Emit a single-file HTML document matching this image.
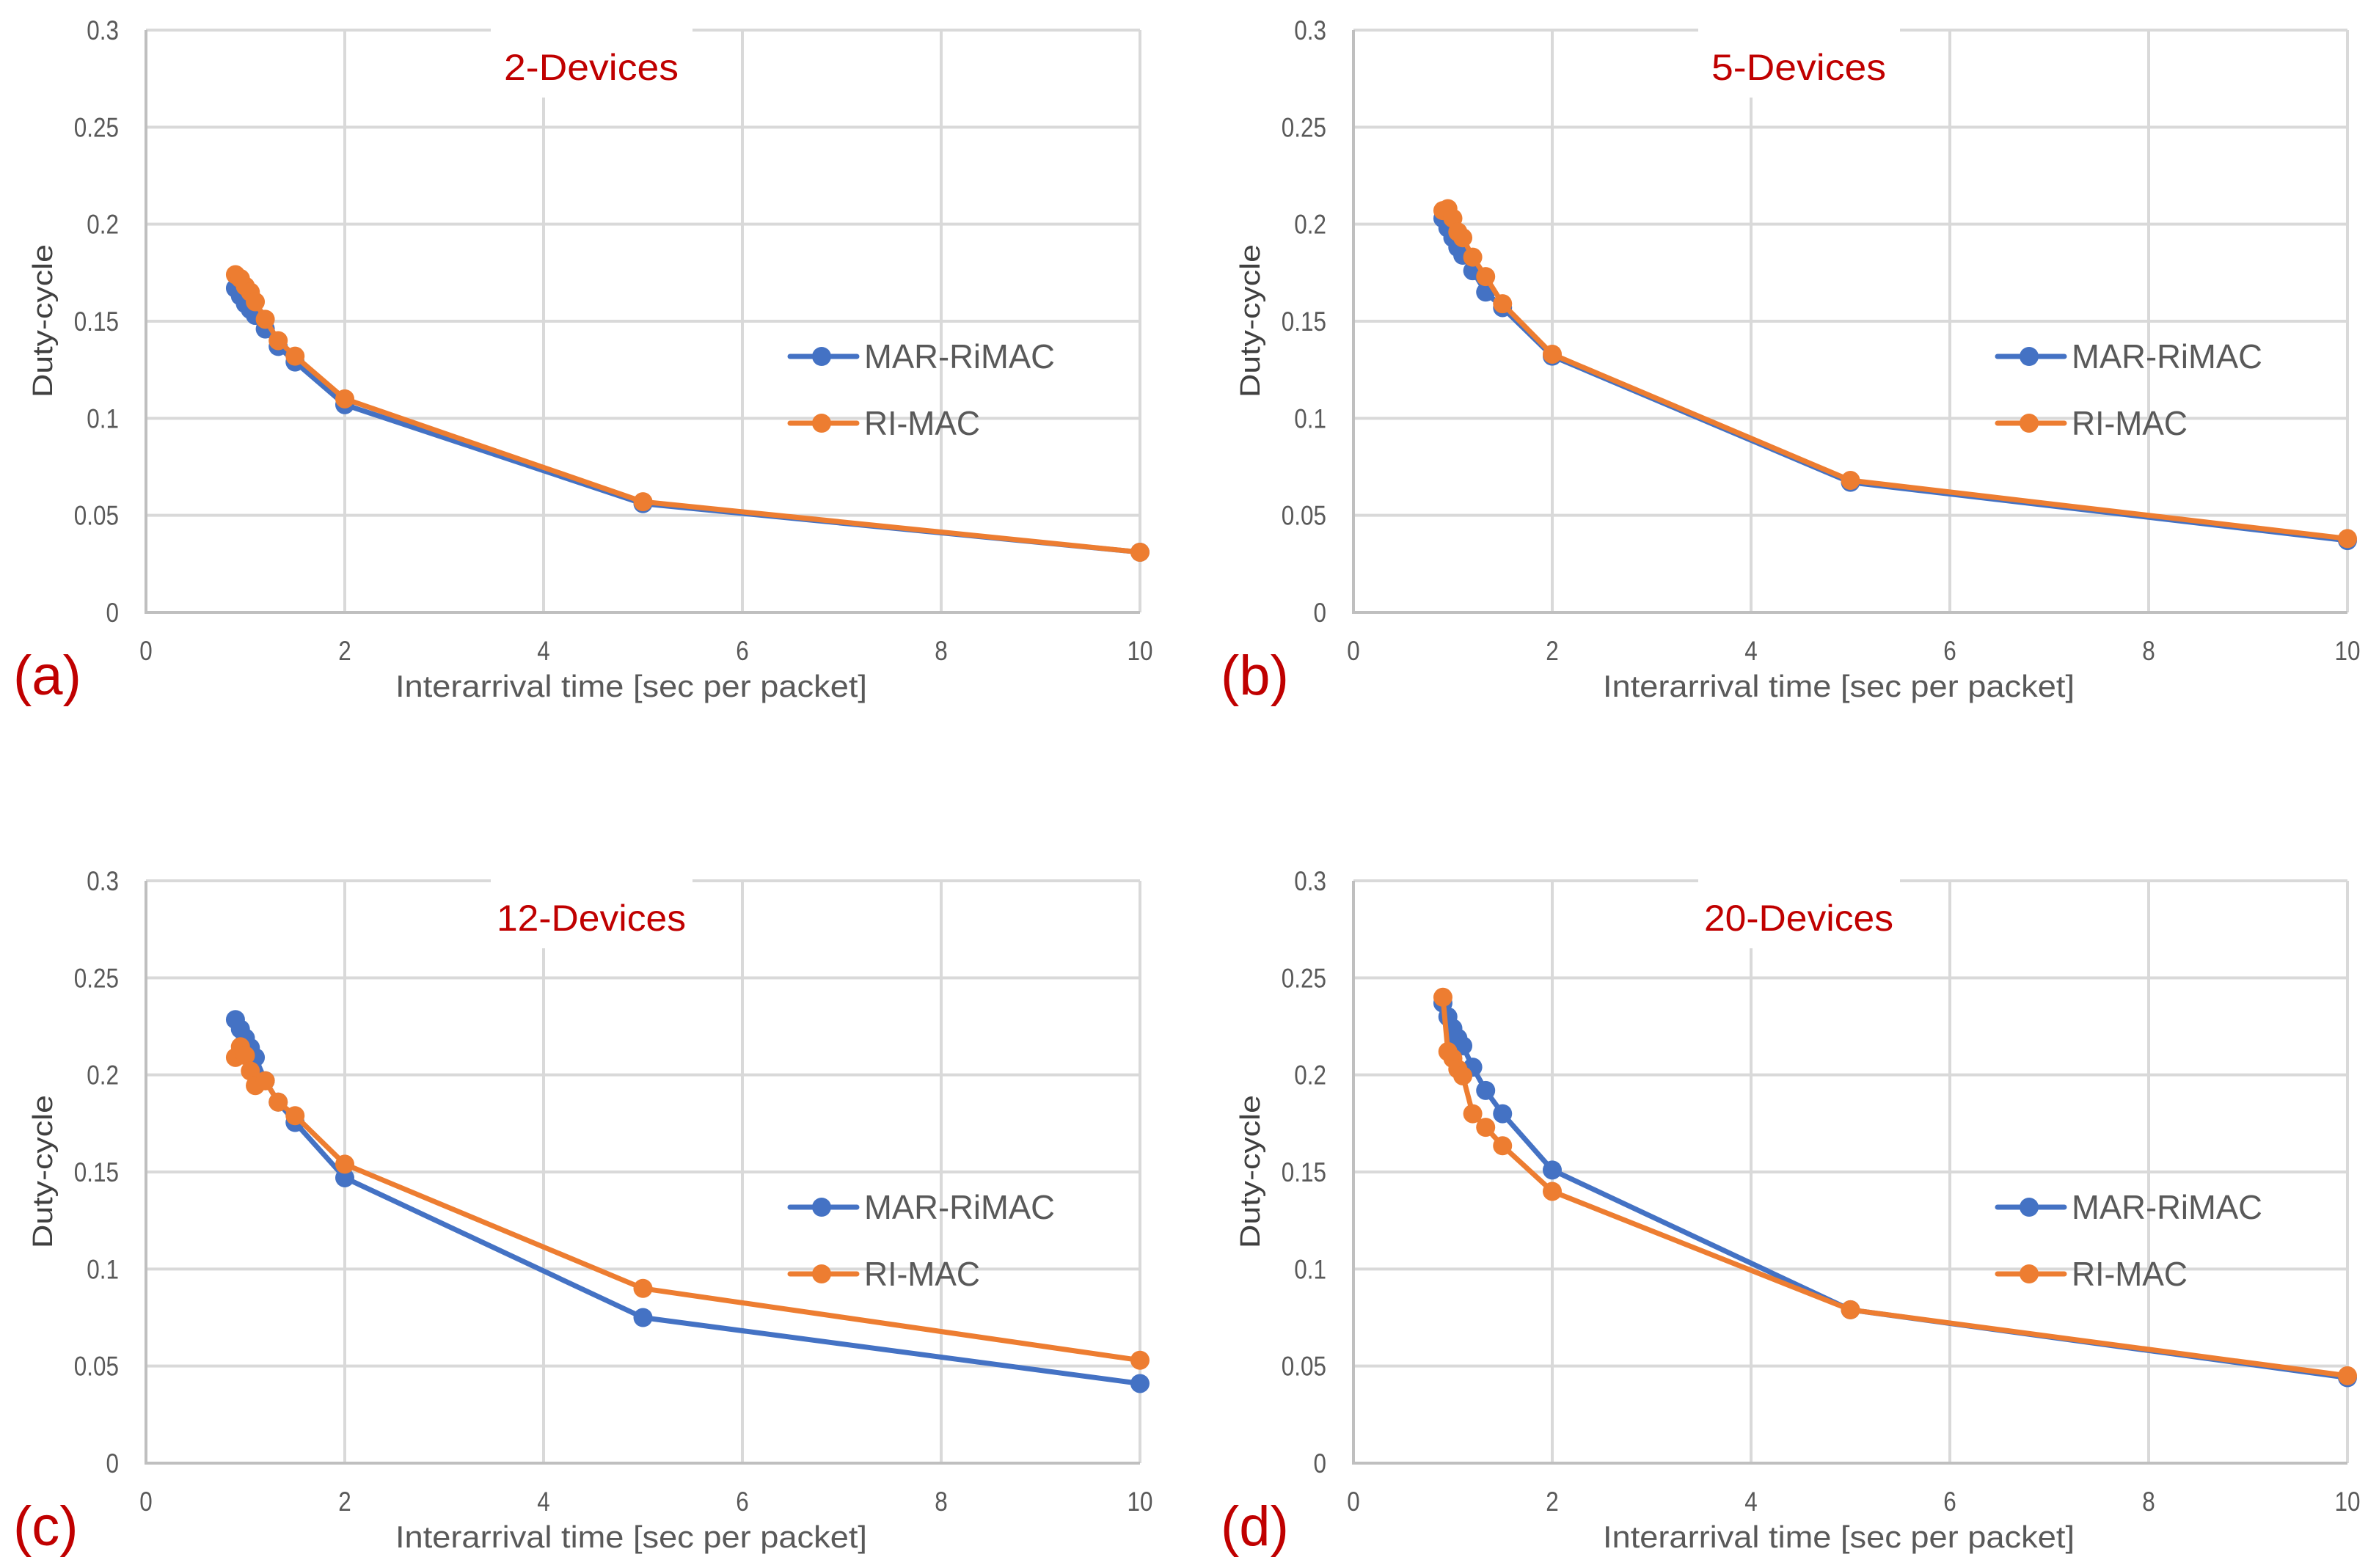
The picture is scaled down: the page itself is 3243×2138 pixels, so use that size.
<!DOCTYPE html>
<html><head><meta charset="utf-8"><style>
html,body{margin:0;padding:0;background:#fff;}
svg{display:block;}
text{font-family:"Liberation Sans",sans-serif;}
</style></head><body>
<svg id="fig" width="3243" height="2138" viewBox="0 0 3243 2138" xmlns="http://www.w3.org/2000/svg"></svg>
<script>
const xValues = [0.9, 0.95, 1.0, 1.05, 1.1, 1.2, 1.33, 1.5, 2, 5, 10];
const xTicks = [0, 2, 4, 6, 8, 10];
const yTicks = [0, 0.05, 0.1, 0.15, 0.2, 0.25, 0.3];
const yTickLabels = ["0", "0.05", "0.1", "0.15", "0.2", "0.25", "0.3"];
const seriesNames = ["MAR-RiMAC", "RI-MAC"];
const panelTitles = ["2-Devices", "5-Devices", "12-Devices", "20-Devices"];
const panelLetters = ["(a)", "(b)", "(c)", "(d)"];
const marA = [0.167, 0.163, 0.159, 0.156, 0.153, 0.146, 0.137, 0.129, 0.107, 0.056, 0.031];
const riA  = [0.174, 0.172, 0.168, 0.165, 0.160, 0.151, 0.140, 0.132, 0.110, 0.057, 0.031];
const marB = [0.203, 0.198, 0.193, 0.188, 0.184, 0.176, 0.165, 0.157, 0.132, 0.067, 0.037];
const riB  = [0.207, 0.208, 0.203, 0.196, 0.193, 0.183, 0.173, 0.159, 0.133, 0.068, 0.038];
const marC = [0.2285, 0.2236, 0.219, 0.214, 0.209, 0.197, 0.186, 0.1755, 0.147, 0.075, 0.041];
const riC  = [0.209, 0.2145, 0.210, 0.202, 0.1945, 0.197, 0.186, 0.179, 0.154, 0.090, 0.053];
const marD = [0.237, 0.230, 0.224, 0.219, 0.215, 0.204, 0.192, 0.180, 0.151, 0.079, 0.044];
const riD  = [0.240, 0.212, 0.2085, 0.203, 0.1995, 0.180, 0.173, 0.1635, 0.140, 0.079, 0.045];

const NS = "http://www.w3.org/2000/svg";
const svg = document.getElementById("fig");
const colors = ["#4472C4", "#ED7D31"];
const panels = [
  {left:199, top:41, data:[marA, riA]},
  {left:1845, top:41, data:[marB, riB]},
  {left:199, top:1201, data:[marC, riC]},
  {left:1845, top:1201, data:[marD, riD]}
];
const W = 1355, H = 794, XMAX = 10, YMAX = 0.3;

function mk(tag, attrs, parent) {
  const e = document.createElementNS(NS, tag);
  for (const k in attrs) e.setAttribute(k, attrs[k]);
  (parent || svg).appendChild(e);
  return e;
}

panels.forEach((p, pi) => {
  const g = mk("g", {});
  
  
  const sx = v => p.left + v / XMAX * W;
  const sy = v => p.top + H - v / YMAX * H;

  yTicks.forEach((t, i) => {
    if (i === 0) return;
    const l = mk("line", {x1:p.left, x2:p.left + W, y1:sy(t), y2:sy(t), stroke:"#D9D9D9", "stroke-width":4}, g);
    
    
  });
  xTicks.forEach((t, i) => {
    if (i === 0) return;
    const l = mk("line", {x1:sx(t), x2:sx(t), y1:p.top, y2:p.top + H, stroke:"#D9D9D9", "stroke-width":4}, g);
    
    
  });
  const ax = mk("path", {d:`M${p.left},${p.top} V${p.top+H} H${p.left+W}`, fill:"none", stroke:"#BFBFBF", "stroke-width":4}, g);
  
  

  const tb = mk("rect", {x:p.left + 470, y:p.top - 3, width:275, height:95, fill:"#fff"}, g);
  
  
  const tw = [238, 238, 258, 258][pi];
  const tt = mk("text", {x:p.left + 607 - tw/2, y:p.top + 68, "font-size":50, fill:"#C00000", textLength:tw, lengthAdjust:"spacingAndGlyphs"}, g);
  tt.textContent = panelTitles[pi];
  
  

  yTicks.forEach((t, i) => {
    const e = mk("text", {x:0, y:0, "text-anchor":"end", "font-size":37, fill:"#595959", transform:`translate(${p.left - 37},${sy(t) + 13}) scale(0.85,1)`}, g);
    e.textContent = yTickLabels[i];
    
    
  });
  xTicks.forEach(t => {
    const e = mk("text", {x:0, y:0, "text-anchor":"middle", "font-size":37, fill:"#595959", transform:`translate(${sx(t)},${p.top + H + 65}) scale(0.85,1)`}, g);
    e.textContent = String(t);
    
    
  });
  const xt = mk("text", {x:p.left + 661 - 321, y:p.top + H + 115, "font-size":42, fill:"#595959", textLength:643, lengthAdjust:"spacingAndGlyphs"}, g);
  xt.textContent = "Interarrival time [sec per packet]";
  
  
  const yt = mk("text", {x:-104, y:0, "font-size":38, fill:"#404040", textLength:209, lengthAdjust:"spacingAndGlyphs", transform:`translate(${p.left - 128},${p.top + H/2}) rotate(-90)`}, g);
  yt.textContent = "Duty-cycle";
  
  
  const pl = mk("text", {x:p.left - 181, y:p.top + H + 112, "font-size":76, fill:"#C00000"}, g);
  pl.textContent = panelLetters[pi];
  
  

  p.data.forEach((vals, si) => {
    const sg = mk("g", {}, g);
    
    
    const pts = vals.map((v, i) => sx(xValues[i]) + "," + sy(v)).join(" ");
    const pl2 = mk("polyline", {points:pts, fill:"none", stroke:colors[si], "stroke-width":7, "stroke-linejoin":"round"}, sg);
    
    
    vals.forEach((v, i) => {
      const c = mk("circle", {cx:sx(xValues[i]), cy:sy(v), r:13, fill:colors[si]}, sg);
      
      
    });
  });

  const lg = mk("g", {}, g);
  
  
  seriesNames.forEach((n, si) => {
    const cy = p.top + 445 + si * 91;
    const e = mk("g", {}, lg);
    
    
    mk("line", {x1:p.left + 878, x2:p.left + 969, y1:cy, y2:cy, stroke:colors[si], "stroke-width":7, "stroke-linecap":"round"}, e);
    mk("circle", {cx:p.left + 921, cy:cy, r:13, fill:colors[si]}, e);
    const t = mk("text", {x:p.left + 979, y:cy + 16, "font-size":46, fill:"#595959", textLength: si === 0 ? 260 : 158, lengthAdjust:"spacingAndGlyphs"}, e);
    t.textContent = n;
  });
});
</script>
</body></html>
